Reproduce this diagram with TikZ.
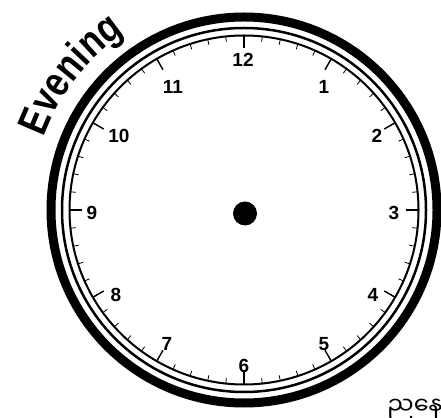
\documentclass[tikz,border=0pt]{standalone}
\usepackage{fontspec}
\setmainfont{Liberation Sans}
\newfontfamily\evfont{Liberation Sans}[FakeStretch=0.82]
\newfontfamily\myfont[Script=Myanmar]{Noto Sans Myanmar UI}
\usetikzlibrary{decorations.text}
\begin{document}
\begin{tikzpicture}[x=1pt,y=1pt,
  hourtick/.style={line width=1.4pt},
  mintick/.style={line width=0.8pt},
  numlbl/.style={inner sep=0pt, font=\fontsize{19}{19}\selectfont\bfseries}]
\useasboundingbox (0,0) rectangle (441,417);
\coordinate (c) at (244,207);
\draw[line width=9pt] (c) circle (193);
\draw[line width=2.5pt] (c) circle (182);
\draw[line width=2pt] (c) circle (174.5);
\foreach \a in {0,6,...,354} \draw[mintick] ([shift={(\a:174)}]c) -- ([shift={(\a:169)}]c);
\foreach \a in {0,30,...,330} \draw[hourtick] ([shift={(\a:174)}]c) -- ([shift={(\a:162)}]c);
\node[circle, fill=black, minimum size=24pt, inner sep=0pt] (dot) at (245,203.5) {};
\node[numlbl] (n12) at (243,357) {12};
\node[numlbl] (n1) at (324,330) {1};
\node[numlbl] (n2) at (377,281) {2};
\node[numlbl] (n3) at (394,204) {3};
\node[numlbl] (n4) at (373,122) {4};
\node[numlbl] (n5) at (324,73) {5};
\node[numlbl] (n6) at (244,51) {6};
\node[numlbl] (n7) at (167,73) {7};
\node[numlbl] (n8) at (116,122) {8};
\node[numlbl] (n9) at (92,204) {9};
\node[numlbl] (n10) at (119,281) {10};
\node[numlbl] (n11) at (173,330) {11};
\path[decorate, decoration={text along path, text={|\evfont\bfseries\fontsize{42}{42}\selectfont|Evening}, text align=center}] ([shift={(178:213)}]c) arc (178:106:213);
\node[anchor=base west, inner sep=0pt, font=\myfont\fontsize{24}{24}\selectfont] (mm) at (387,2) {ညနေ};
\end{tikzpicture}
\end{document}
